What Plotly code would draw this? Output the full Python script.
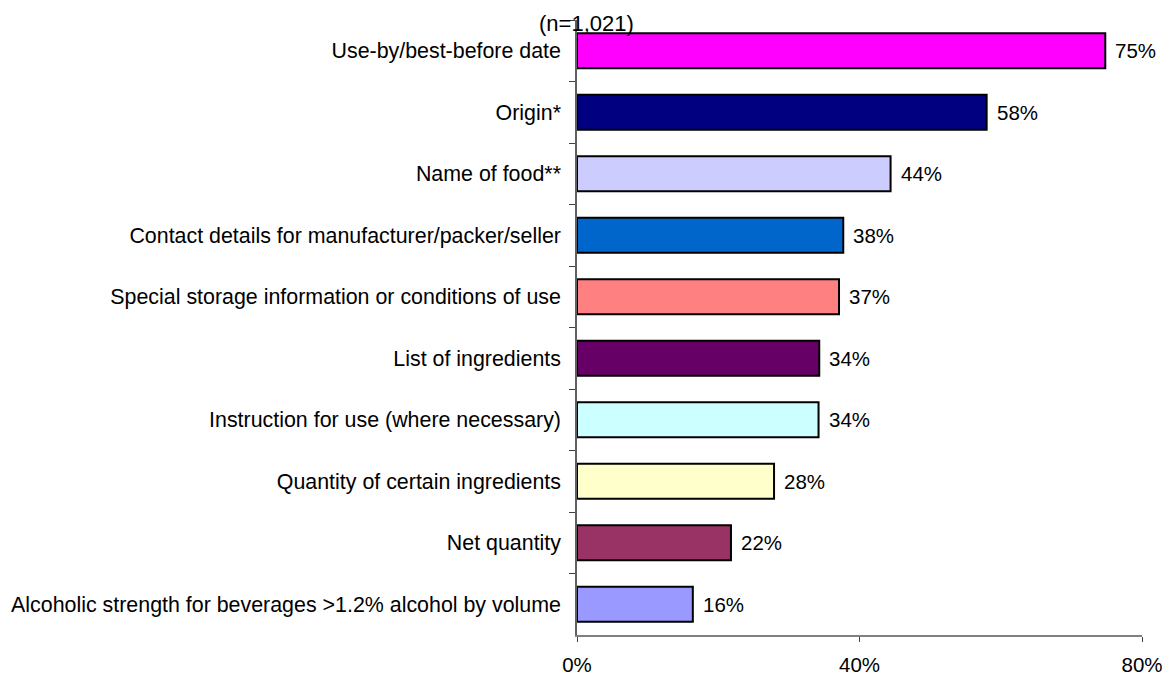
import plotly.graph_objects as go

categories = [
    "Use-by/best-before date",
    "Origin*",
    "Name of food**",
    "Contact details for manufacturer/packer/seller",
    "Special storage information or conditions of use",
    "List of ingredients",
    "Instruction for use (where necessary)",
    "Quantity of certain ingredients",
    "Net quantity",
    "Alcoholic strength for beverages >1.2% alcohol by volume",
]
values = [74.8, 58.0, 44.4, 37.7, 37.1, 34.3, 34.2, 27.9, 21.8, 16.4]
value_labels = ["75%", "58%", "44%", "38%", "37%", "34%", "34%", "28%", "22%", "16%"]
colors = ["#FF00FF", "#000080", "#CCCCFF", "#0066CC", "#FF8080",
          "#660066", "#CCFFFF", "#FFFFCC", "#993366", "#9999FF"]
tick_vals = [0, 40, 80]
tick_text = ["0%", "40%", "80%"]
note = "(n=1,021)"

FONT = "Liberation Sans, Arial, sans-serif"

fig = go.Figure(go.Bar(
    x=values, y=categories, orientation="h",
    marker=dict(color=colors, line=dict(color="black", width=2)),
    width=0.57,
    cliponaxis=False,
))

for v, c, t in zip(values, categories, value_labels):
    fig.add_annotation(x=v, y=c, text=t, xanchor="left", yanchor="middle",
                       xshift=8, showarrow=False,
                       font=dict(family=FONT, size=20.5, color="black"))

fig.add_annotation(text=note, xref="paper", yref="paper",
                   x=9 / 565, y=1 - 4 / 616,
                   xanchor="center", yanchor="middle", showarrow=False,
                   font=dict(family=FONT, size=22, color="black"))

fig.update_layout(
    template="none",
    width=1155, height=666,
    margin=dict(l=569, r=21, t=12, b=39),
    paper_bgcolor="white", plot_bgcolor="white",
    showlegend=False,
    font=dict(family=FONT, size=20, color="black"),
    xaxis=dict(range=[0, 80], tickvals=tick_vals, ticktext=tick_text,
               showgrid=False, zeroline=False, showline=True,
               linecolor="#808080", linewidth=1.5,
               ticks="outside", ticklen=5, tickcolor="#404040",
               ticklabelstandoff=6, automargin=False,
               tickfont=dict(family=FONT, size=20.5, color="black")),
    yaxis=dict(autorange="reversed", showgrid=False, zeroline=False,
               showline=True, linecolor="#606060", linewidth=1.5,
               ticks="outside", ticklen=6, tickcolor="#404040",
               tickson="boundaries", ticklabelstandoff=10, automargin=False,
               tickfont=dict(family=FONT, size=21.4, color="black")),
)

fig.write_html("out.html")
